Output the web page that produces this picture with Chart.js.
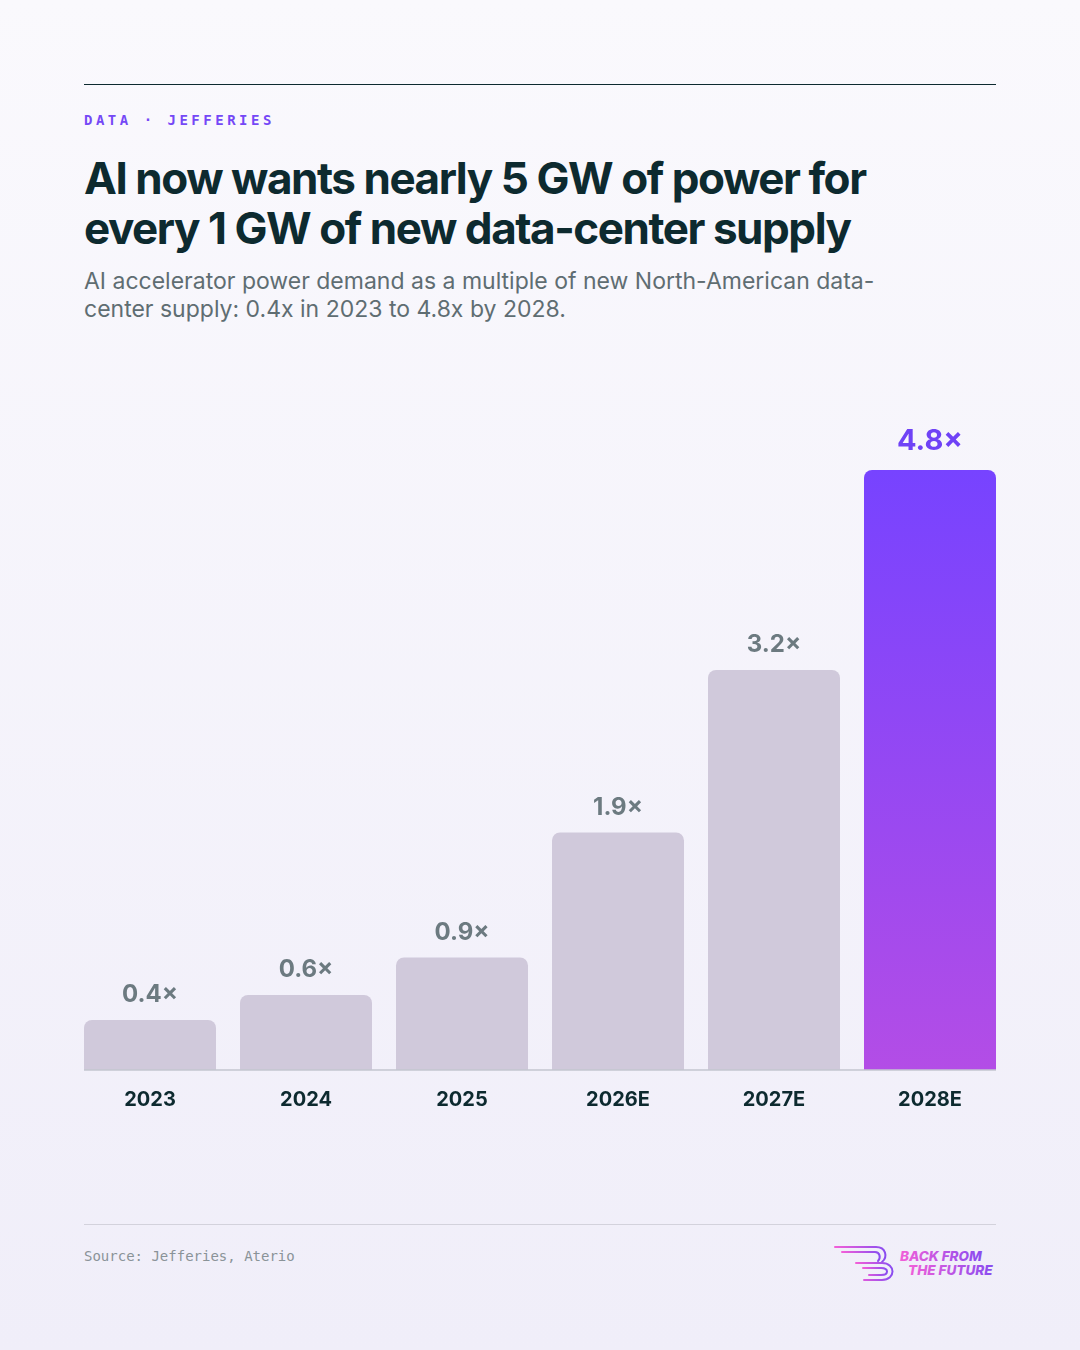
<!DOCTYPE html>
<html lang="en">
<head>
    <meta charset="UTF-8">
    <title>AI power demand vs data-center supply</title>
    <script src="https://cdn.jsdelivr.net/npm/chart.js"></script>
    <style>
        html, body { margin: 0; padding: 0; }
        body {
            width: 1080px; height: 1350px; position: relative; overflow: hidden;
            background: linear-gradient(180deg, #faf9fd 0%, #f0eef9 100%);
            font-family: Inter, "Noto Sans", sans-serif;
        }
        .rule { position: absolute; left: 84px; width: 912px; }
        .kicker {
            position: absolute; left: 84px; top: 112px;
            font: bold 14px "DejaVu Sans Mono", monospace; letter-spacing: 3.5px;
            color: #7548f6;
        }
        h1 {
            position: absolute; left: 84px; top: 153px; margin: 0; width: 940px;
            font-size: 44px; line-height: 50px; font-weight: 700; letter-spacing: -1.45px;
            color: #0d2a2f;
        }
        .sub {
            position: absolute; left: 84px; top: 267px; margin: 0; width: 900px;
            font-size: 23px; line-height: 28px; color: #5f6d72;
        }
        #wrap { position: absolute; left: 72px; top: 400px; }
        .source {
            position: absolute; left: 84px; top: 1248px;
            font: 14px "DejaVu Sans Mono", monospace; color: #8a9398;
        }
        .logo { position: absolute; left: 830px; top: 1240px; }
    </style>
</head>
<body>
    <div class="rule" style="top:84px;height:1px;background:#0d2a2f;"></div>
    <div class="kicker">DATA · JEFFERIES</div>
    <h1>AI now wants nearly 5 GW of power for<br>every 1 GW of new data-center supply</h1>
    <p class="sub">AI accelerator power demand as a multiple of new North-American data-<br>center supply: 0.4x in 2023 to 4.8x by 2028.</p>

    <div id="wrap"><canvas id="myChart" width="936" height="722" style="width:936px;height:722px;"></canvas></div>

    <div class="rule" style="top:1224px;height:1px;background:#d3d2dc;"></div>
    <div class="source">Source: Jefferies, Aterio</div>
    <svg class="logo" width="170" height="46" viewBox="0 0 170 46">
        <defs>
            <linearGradient id="lg" x1="0" y1="0" x2="1" y2="0">
                <stop offset="0" stop-color="#f25fd8"/>
                <stop offset="1" stop-color="#8a4cf0"/>
            </linearGradient>
        </defs>
        <g fill="none" stroke="url(#lg)" stroke-width="2" stroke-linecap="round">
            <path d="M5 7 H46 C56 7 58 17 52 22"/>
            <path d="M12 12 H45 C50 12 51 18 48 21"/>
            <path d="M19 17 H42"/>
            <path d="M26 23 H52 C66 23 66 40 52 40 H34"/>
            <path d="M33 28 H51 C59 28 59 35 51 35 H39"/>
        </g>
        <g font-family="Inter, sans-serif" font-weight="800" font-style="italic" font-size="13.5" fill="url(#lg)">
            <text x="70" y="21">BACK FROM</text>
            <text x="78" y="35">THE FUTURE</text>
        </g>
    </svg>

    <script>
        // values
        const years = ['2023', '2024', '2025', '2026E', '2027E', '2028E'];
        const multiples = [0.4, 0.6, 0.9, 1.9, 3.2, 4.8];
        const valueLabels = ['0.4×', '0.6×', '0.9×', '1.9×', '3.2×', '4.8×'];

        const greyBar = '#d0c9db';

        // labels on top of each bar + the baseline under them
        const barExtras = {
            id: 'barExtras',
            afterDatasetsDraw(chart) {
                const ctx = chart.ctx;
                const bars = chart.getDatasetMeta(0).data;
                const y0 = chart.scales.y.getPixelForValue(0);

                ctx.save();
                ctx.strokeStyle = '#c3c6cf';
                ctx.lineWidth = 1.5;
                ctx.beginPath();
                ctx.moveTo(bars[0].x - bars[0].width / 2, y0);
                ctx.lineTo(bars[bars.length - 1].x + bars[bars.length - 1].width / 2, y0);
                ctx.stroke();

                ctx.textAlign = 'center';
                ctx.textBaseline = 'middle';
                bars.forEach((bar, i) => {
                    const last = i === bars.length - 1;
                    ctx.font = last ? 'bold 29px Inter' : 'bold 24px Inter';
                    ctx.fillStyle = last ? '#6f42f6' : '#6c7a80';
                    ctx.fillText(valueLabels[i], bar.x, bar.y - (last ? 29 : 25));
                });
                ctx.restore();
            }
        };

        const ctx = document.getElementById('myChart').getContext('2d');
        new Chart(ctx, {
            type: 'bar',
            data: {
                labels: years,
                datasets: [{
                    data: multiples,
                    backgroundColor: (c) => {
                        if (c.dataIndex !== multiples.length - 1) return greyBar;
                        const area = c.chart.chartArea;
                        if (!area) return '#7744ff';
                        const g = c.chart.ctx.createLinearGradient(0, area.top, 0, area.bottom);
                        g.addColorStop(0, '#7743ff');
                        g.addColorStop(1, '#b34de6');
                        return g;
                    },
                    borderRadius: 8,
                    borderSkipped: 'start',
                    barPercentage: 132 / 156,
                    categoryPercentage: 1
                }]
            },
            options: {
                responsive: false,
                animation: false,
                devicePixelRatio: 1,
                layout: { padding: { top: 70, left: 0, right: 0, bottom: 0 } },
                scales: {
                    y: { display: false, min: 0, max: 4.8 },
                    x: {
                        grid: { display: false },
                        border: { display: false },
                        ticks: {
                            padding: 10,
                            autoSkip: false,
                            maxRotation: 0,
                            color: '#0d2a2f',
                            font: { family: 'Inter', size: 20, weight: 'bold' }
                        }
                    }
                },
                plugins: {
                    legend: { display: false },
                    tooltip: { enabled: false }
                }
            },
            plugins: [barExtras]
        });
    </script>
</body>
</html>
